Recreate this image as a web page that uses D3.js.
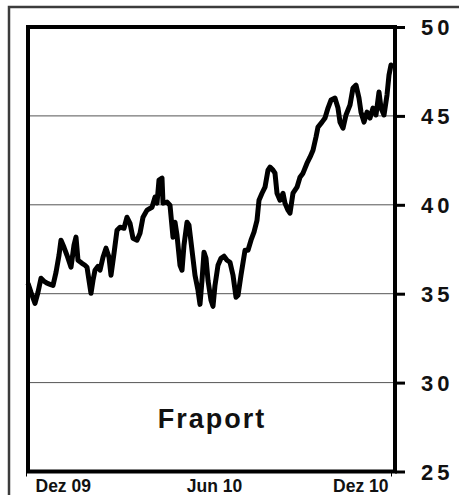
<!DOCTYPE html>
<html lang="de">
<head>
<meta charset="UTF-8">
<title>Fraport</title>
<script src="https://d3js.org/d3.v7.min.js"></script>
<style>
  body { margin: 0; background: #fff; }
  svg { display: block; font-family: "Liberation Sans", Arial, sans-serif; }
  .grid line { stroke: #555; stroke-width: 1; }
  .yax text { font-size: 22px; font-weight: bold; letter-spacing: 4px; fill: #111; }
  .xax text { font-size: 17.5px; font-weight: bold; fill: #111; }
</style>
</head>
<body>
<svg width="459" height="495"></svg>
<script>
// daily closes
const dates = [
  "2009-12-03","2009-12-06","2009-12-10","2009-12-13","2009-12-16","2009-12-19","2009-12-22","2009-12-25",
  "2009-12-28","2009-12-31","2010-01-03","2010-01-05","2010-01-08","2010-01-11","2010-01-15","2010-01-18",
  "2010-01-20","2010-01-22","2010-01-26","2010-01-29","2010-01-31","2010-02-02","2010-02-04","2010-02-06",
  "2010-02-08","2010-02-11","2010-02-13","2010-02-16","2010-02-19","2010-02-22","2010-02-24","2010-02-27",
  "2010-03-02","2010-03-05","2010-03-09","2010-03-12","2010-03-15","2010-03-18","2010-03-22","2010-03-25",
  "2010-03-28","2010-04-01","2010-04-06","2010-04-09","2010-04-11","2010-04-13","2010-04-16","2010-04-17",
  "2010-04-21","2010-04-24","2010-04-27","2010-04-29","2010-05-01","2010-05-04","2010-05-06","2010-05-08",
  "2010-05-11","2010-05-13","2010-05-16","2010-05-19","2010-05-22","2010-05-24","2010-05-26","2010-05-28",
  "2010-05-30","2010-06-01","2010-06-04","2010-06-06","2010-06-08","2010-06-11","2010-06-14","2010-06-17",
  "2010-06-20","2010-06-23","2010-06-26","2010-06-29","2010-07-01","2010-07-04","2010-07-08","2010-07-11",
  "2010-07-14","2010-07-17","2010-07-20","2010-07-22","2010-07-25","2010-07-28","2010-07-31","2010-08-02",
  "2010-08-05","2010-08-07","2010-08-09","2010-08-12","2010-08-15","2010-08-17","2010-08-20","2010-08-22",
  "2010-08-25","2010-08-29","2010-09-01","2010-09-04","2010-09-08","2010-09-11","2010-09-14","2010-09-17",
  "2010-09-19","2010-09-23","2010-09-26","2010-09-29","2010-10-02","2010-10-06","2010-10-09","2010-10-11",
  "2010-10-14","2010-10-17","2010-10-21","2010-10-24","2010-10-27","2010-10-30","2010-11-01","2010-11-04",
  "2010-11-07","2010-11-10","2010-11-13","2010-11-16","2010-11-19","2010-11-21","2010-11-24","2010-11-27",
  "2010-11-29","2010-12-01","2010-12-03"
];
const prices = [
  35.59,35.08,34.46,35.08,35.87,35.70,35.59,35.53,
  35.47,36.20,37.16,38.01,37.61,37.16,36.49,37.73,
  38.18,36.88,36.71,36.60,36.49,35.75,35.02,35.75,
  36.32,36.54,36.32,37.05,37.56,37.05,36.04,37.27,
  38.57,38.74,38.68,39.30,38.96,38.12,38.01,38.40,
  39.30,39.70,39.86,40.43,40.09,41.39,41.50,40.09,
  40.15,39.98,38.18,39.02,38.29,36.60,36.32,37.73,
  39.02,38.85,37.44,36.04,35.19,34.40,35.75,37.33,
  36.99,35.75,34.63,34.29,35.47,36.60,36.99,37.11,
  36.88,36.77,36.04,34.80,34.91,36.04,37.44,37.44,
  38.01,38.46,39.13,40.26,40.65,40.99,41.95,42.12,
  41.95,41.78,40.65,40.26,40.65,40.09,39.70,39.53,
  40.65,40.99,41.55,41.78,42.34,42.68,43.07,43.81,
  44.37,44.65,44.88,45.44,45.89,46.00,45.44,44.65,
  44.31,45.05,45.61,46.57,46.73,46.00,45.21,44.65,
  45.21,44.88,45.44,45.05,46.34,45.44,45.05,46.17,
  47.30,47.86,47.75
];
const yTicks = [25, 30, 35, 40, 45, 50];
const xTickDates = ["2009-12-01", "2010-06-01", "2010-12-01"];
const xTickLabels = ["Dez 09", "Jun 10", "Dez 10"];
const title = "Fraport";

const parse = d3.timeParse("%Y-%m-%d");
const data = dates.map((d, i) => ({ date: parse(d), value: prices[i] }));

const svg = d3.select("svg");
const plotL = 28, plotR = 395, plotT = 27, plotB = 471.5;

const x = d3.scaleTime()
  .domain([parse("2009-12-03"), parse("2010-12-05")])
  .range([plotL, plotR]);
const y = d3.scaleLinear().domain([25, 50]).range([plotB, plotT]);

// outer border
svg.append("rect")
  .attr("x", 9).attr("y", 7).attr("width", 470).attr("height", 500)
  .attr("fill", "none").attr("stroke", "#3c3c3c").attr("stroke-width", 2.5);

// grid
svg.append("g").attr("class", "grid")
  .selectAll("line")
  .data(yTicks.slice(1, -1))
  .join("line")
  .attr("x1", plotL).attr("x2", plotR)
  .attr("y1", d => y(d)).attr("y2", d => y(d));

// price line
svg.append("path")
  .datum(data)
  .attr("fill", "none")
  .attr("stroke", "#000")
  .attr("stroke-width", 5)
  .attr("stroke-linejoin", "round")
  .attr("d", d3.line().x(d => x(d.date)).y(d => y(d.value)));

// frame
svg.append("rect")
  .attr("x", plotL).attr("y", plotT)
  .attr("width", plotR - plotL).attr("height", plotB - plotT)
  .attr("fill", "none").attr("stroke", "#000").attr("stroke-width", 4);

// right axis
const yAxis = svg.append("g").attr("class", "yax")
  .attr("transform", `translate(${plotR},0)`)
  .call(d3.axisRight(y).tickValues(yTicks).tickSize(10).tickPadding(16).tickFormat(d3.format("d")));
yAxis.select(".domain").remove();
yAxis.selectAll(".tick line").attr("stroke", "#000").attr("stroke-width", 3);
yAxis.selectAll(".tick text").attr("dy", "0.36em");

// bottom axis
const xAxis = svg.append("g").attr("class", "xax")
  .attr("transform", `translate(0,${plotB})`)
  .call(d3.axisBottom(x)
    .tickValues(xTickDates.map(parse))
    .tickSize(5).tickPadding(3)
    .tickFormat((d, i) => xTickLabels[i]));
xAxis.select(".domain").remove();
xAxis.selectAll(".tick line").attr("stroke", "#000").attr("stroke-width", 1)
  .attr("opacity", (d, i) => i === 1 ? 0 : 1);
xAxis.selectAll(".tick text")
  .attr("text-anchor", (d, i) => i === 0 ? "start" : i === 2 ? "end" : "middle")
  .attr("dx", (d, i) => i === 0 ? 9 : i === 2 ? -3 : 6);

// title
svg.append("text")
  .attr("x", (plotL + plotR) / 2 + 0.5).attr("y", 428)
  .attr("text-anchor", "middle")
  .attr("font-size", 27).attr("font-weight", "bold")
  .attr("letter-spacing", 2)
  .attr("fill", "#111")
  .text(title);
</script>
</body>
</html>
